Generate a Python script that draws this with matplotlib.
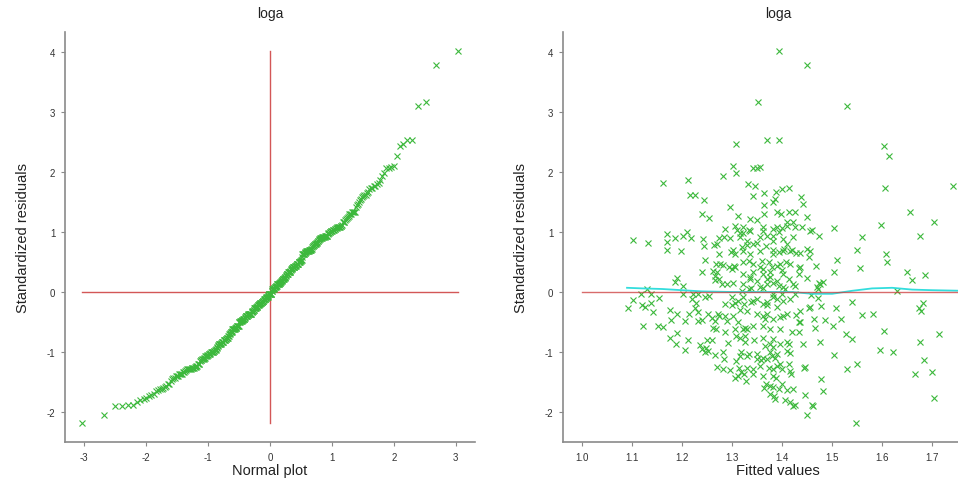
"""Residual diagnostics for the loga model: normal plot and residuals vs fitted."""
from statistics import NormalDist

import matplotlib
matplotlib.use("Agg")
import matplotlib.pyplot as plt
import numpy as np

plt.rcParams["font.family"] = ["Liberation Sans", "DejaVu Sans"]
plt.rcParams["axes.unicode_minus"] = False

# fitted values and standardized residuals, one entry per observation
fitted = [
    1.102, 1.132, 1.162, 1.212, 1.216, 1.226, 1.244, 1.170, 1.186, 1.170,
    1.202, 1.210, 1.218, 1.242, 1.244, 1.170, 1.198, 1.246, 1.190, 1.186,
    1.130, 1.202, 1.118, 1.138, 1.102, 1.092, 1.120, 1.126, 1.138, 1.142,
    1.154, 1.202, 1.222, 1.220, 1.254, 1.176, 1.190, 1.214, 1.226, 1.228,
    1.178, 1.176, 1.122, 1.152, 1.162, 1.190, 1.188, 1.206, 1.240, 1.236,
    1.248, 1.250, 1.260, 1.240, 1.254, 1.206, 1.232, 1.232, 1.232, 1.246,
    1.264, 1.212, 1.240, 1.246, 1.252,
    1.270, 1.274, 1.240, 1.270, 1.262, 1.276, 1.282, 1.266, 1.274, 1.260,
    1.274, 1.262, 1.268, 1.266, 1.282, 1.270, 1.282, 1.296, 1.274, 1.282,
    1.298, 1.302, 1.306, 1.330, 1.350, 1.300, 1.304, 1.322, 1.334, 1.302,
    1.336, 1.342, 1.334, 1.338, 1.286, 1.290, 1.302, 1.300, 1.316, 1.324,
    1.338, 1.350, 1.292, 1.286, 1.308, 1.316, 1.322, 1.326, 1.342, 1.314,
    1.318, 1.324, 1.330, 1.342, 1.328, 1.308, 1.316, 1.334, 1.350, 1.302,
    1.308, 1.342, 1.350, 1.332, 1.346, 1.342, 1.296, 1.312, 1.336, 1.350,
    1.286, 1.306, 1.310, 1.316, 1.322, 1.334, 1.296, 1.308, 1.352,
    1.284, 1.306, 1.312, 1.306, 1.312, 1.284, 1.320, 1.268, 1.294, 1.306,
    1.266, 1.280, 1.290, 1.320, 1.300, 1.312, 1.252, 1.272, 1.286, 1.306,
    1.266, 1.322, 1.336, 1.316, 1.330, 1.342, 1.356, 1.322, 1.336, 1.356,
    1.342, 1.356, 1.322, 1.336, 1.350, 1.322, 1.356, 1.322, 1.342, 1.330,
    1.350, 1.330, 1.326, 1.326, 1.344, 1.318, 1.330, 1.350, 1.342, 1.356,
    1.362, 1.382, 1.394, 1.402, 1.368, 1.382, 1.394, 1.404, 1.360, 1.374,
    1.390, 1.362, 1.376, 1.400, 1.408, 1.370, 1.382, 1.394, 1.406, 1.362,
    1.382, 1.400, 1.426, 1.370, 1.390, 1.362, 1.382, 1.402, 1.362, 1.376,
    1.396, 1.362, 1.382, 1.396, 1.410, 1.416, 1.366, 1.376, 1.362, 1.386,
    1.396, 1.414, 1.374, 1.390, 1.400, 1.362, 1.382, 1.418, 1.368, 1.382,
    1.400, 1.422, 1.376, 1.386, 1.406, 1.416, 1.422,
    1.362, 1.390, 1.410, 1.456, 1.370, 1.382, 1.410, 1.422, 1.382, 1.402,
    1.416, 1.450, 1.380, 1.396, 1.416, 1.362, 1.376, 1.390, 1.402, 1.436,
    1.434, 1.370, 1.402, 1.422, 1.470, 1.476, 1.362, 1.382, 1.402, 1.416,
    1.456, 1.370, 1.396, 1.410, 1.436, 1.366, 1.436, 1.376, 1.382, 1.414,
    1.358, 1.370, 1.380, 1.390, 1.410, 1.382, 1.416, 1.444, 1.388, 1.364,
    1.376, 1.394, 1.410, 1.384, 1.446, 1.462,
    1.394, 1.450, 1.530, 1.370, 1.394, 1.356, 1.604, 1.614, 1.606, 1.742,
    1.364, 1.388, 1.400, 1.414, 1.438, 1.364, 1.382, 1.386, 1.442, 1.364,
    1.390, 1.398, 1.414, 1.426, 1.450, 1.656, 1.704, 1.598, 1.504, 1.460,
    1.474, 1.560, 1.676, 1.382, 1.400, 1.410, 1.422, 1.426, 1.440,
    1.550, 1.608, 1.610, 1.510, 1.556, 1.504, 1.468, 1.650, 1.660, 1.686,
    1.450, 1.474, 1.482, 1.472, 1.630, 1.428, 1.436, 1.456, 1.454, 1.434,
    1.420, 1.414, 1.426, 1.458, 1.472, 1.370, 1.390, 1.540,
    1.454, 1.478, 1.508, 1.518, 1.560, 1.582, 1.674, 1.682, 1.678, 1.428,
    1.434, 1.464, 1.486, 1.502, 1.466, 1.420, 1.434, 1.528, 1.540, 1.604,
    1.714, 1.442, 1.476, 1.596, 1.622, 1.504, 1.676, 1.550, 1.530, 1.684,
    1.666, 1.700, 1.446, 1.478, 1.482, 1.460, 1.426, 1.450, 1.704, 1.548,
]
resid = [
    0.87, 0.82, 1.82, 1.87, 1.62, 1.62, 1.53, 0.97, 0.90, 0.83,
    0.93, 1.00, 0.90, 0.88, 0.77, 0.70, 0.68, 0.53, 0.23, 0.17,
    0.05, 0.10, -0.03, -0.03, -0.13, -0.27, -0.22, -0.25, -0.18, -0.33,
    -0.10, -0.03, -0.03, -0.12, -0.07, -0.30, -0.37, -0.37, -0.27, -0.18,
    -0.47, -0.77, -0.57, -0.57, -0.58, -0.68, -0.87, -0.97, -0.47, -0.88,
    -0.93, -0.80, -0.80, 1.30, 1.23, -0.48, -0.48, -0.33, -0.03, -0.08,
    0.78, -0.80, -0.95, -1.00, -0.98,
    0.80, 0.63, 0.33, 0.33, 0.35, 0.47, 0.45, 0.20, 0.22, -0.43,
    -0.40, -0.60, -0.62, -1.05, -1.00, -1.25, -1.28, -1.30, 0.90, 1.93,
    0.67, 0.70, 0.63, 0.78, 0.82, 0.38, 0.43, 0.50, 0.52, 0.15,
    0.22, 0.33, 0.05, 0.07, -0.40, -0.48, -0.40, -0.22, -0.30, -0.20,
    -0.17, -0.12, -0.85, -0.67, -0.73, -0.77, -0.62, -0.60, -0.57, -1.27,
    -1.33, -1.37, -1.27, -1.37, -1.48, -1.15, -1.07, -1.03, -1.12, 2.10,
    1.98, 2.07, 2.07, 1.80, 1.77, 1.60, 1.42, 1.27, 1.22, 1.20,
    1.05, 1.10, 1.03, 0.98, 0.98, 1.03, 0.90, 2.47, 3.17,
    -1.12, -1.43, -1.40, -0.62, -0.50, 0.92, 0.75, 0.47, 0.42, 0.42,
    0.27, 0.13, 0.13, 0.02, -0.08, -0.15, -0.37, -0.37, -0.20, -0.18,
    -0.48, 1.08, 1.02, 0.92, 0.85, 0.80, 0.92, 0.68, 0.63, 0.68,
    0.47, 0.42, 0.30, 0.25, 0.18, 0.13, 0.08, -0.08, -0.15, -0.32,
    -0.37, -0.62, -0.73, -0.83, -0.80, -1.00, -1.07, -1.03, -1.28, -1.23,
    1.02, 0.93, 1.00, 0.88, 0.77, 0.70, 0.67, 0.72, 0.52, 0.50,
    0.43, 0.38, 0.33, 0.37, 0.50, 0.22, 0.15, 0.10, 0.05, 0.07,
    -0.03, -0.03, -0.03, -0.22, -0.25, -0.40, -0.45, -0.40, -0.57, -0.62,
    -0.62, -0.77, -0.78, -0.87, -0.83, -1.02, -0.90, -1.00, -1.10, -1.10,
    -1.20, -1.20, -1.27, -1.23, -1.28, -1.40, -1.40, -1.37, -1.53, -1.58,
    -1.53, -1.62, -1.70, -1.78, -1.80, -1.83, -1.90,
    1.08, 1.08, 1.10, 1.02, 0.93, 0.85, 0.80, 0.92, 0.63, 0.68,
    0.68, 0.72, 0.42, 0.47, 0.47, 0.30, 0.25, 0.18, 0.30, 0.42,
    0.30, 0.13, 0.08, 0.13, 0.08, 0.13, -0.20, -0.08, -0.15, -0.12,
    -0.25, -0.37, -0.42, -0.37, -0.32, -0.45, -0.50, -0.87, -0.92, -0.87,
    -1.13, -1.12, -1.07, -1.03, -0.98, -1.28, -1.32, -1.27, -1.43, -1.60,
    -1.57, -1.62, -1.63, -1.73, -1.72, -1.90,
    4.02, 3.78, 3.10, 2.53, 2.53, 2.08, 2.43, 2.27, 1.73, 1.77,
    1.65, 1.67, 1.72, 1.73, 1.58, 1.45, 1.50, 1.55, 1.47, 1.30,
    1.33, 1.30, 1.33, 1.33, 1.25, 1.33, 1.17, 1.12, 1.07, 1.03,
    0.93, 0.92, 0.93, 1.05, 1.07, 1.17, 1.17, 1.08, 1.08,
    0.70, 0.63, 0.50, 0.53, 0.40, 0.33, 0.43, 0.33, 0.20, 0.28,
    0.23, 0.15, 0.17, 0.05, 0.02, 0.65, 0.65, 0.68, 0.58, 0.40,
    0.70, 0.22, 0.10, -0.05, -0.10, -0.17, -0.12, -0.17,
    -0.27, -0.23, -0.27, -0.45, -0.38, -0.37, -0.27, -0.18, -0.32, -0.38,
    -0.50, -0.45, -0.47, -0.57, -0.60, -0.67, -0.67, -0.70, -0.78, -0.65,
    -0.70, -0.87, -0.83, -0.97, -1.00, -1.05, -0.83, -1.20, -1.28, -1.13,
    -1.37, -1.33, -1.25, -1.45, -1.65, -1.88, -1.88, -2.05, -1.77, -2.18,
]
assert len(fitted) == len(resid)

# lowess smooth of residuals on fitted values
smooth_x = [1.09, 1.12, 1.16, 1.20, 1.24, 1.30, 1.36, 1.42, 1.46, 1.50,
            1.54, 1.58, 1.62, 1.66, 1.70, 1.76]
smooth_y = [0.07, 0.06, 0.05, 0.03, 0.01, 0.0, 0.0, 0.0, -0.03, -0.03,
            0.02, 0.06, 0.07, 0.04, 0.03, 0.02]

PT = "#3cb83c"
REF = "#cc3a3a"
SPINE = "#8a8a8a"
TXT = "#333333"


def style(ax):
    for s in ("top", "right"):
        ax.spines[s].set_visible(False)
    for s in ("left", "bottom"):
        ax.spines[s].set_color(SPINE)
        ax.spines[s].set_linewidth(1.2)
    ax.tick_params(direction="out", length=3, width=0.8, color=SPINE,
                   labelsize=7, labelcolor=TXT, pad=4)
    ax.set_ylim(-2.5, 4.33)
    ax.set_yticks([-2, -1, 0, 1, 2, 3, 4])
    ax.set_ylabel("Standardized residuals", fontsize=10.5, color="#222222", labelpad=12)
    ax.set_title("loga", fontsize=10, color="#222222", pad=11)


r = np.array(resid)
f = np.array(fitted)
n = len(r)
q = np.array([NormalDist().inv_cdf((i - 0.5) / n) for i in range(1, n + 1)])
rs = np.sort(r)

fig = plt.figure(figsize=(9.58, 4.81), dpi=100)
ax1 = fig.add_axes([0.0679, 0.079, 0.428, 0.852])
ax2 = fig.add_axes([0.5877, 0.079, 0.449, 0.852])

# normal plot
ax1.plot([q.min(), q.max()], [0, 0], color=REF, lw=1, alpha=0.85)
ax1.plot([0, 0], [rs.min(), rs.max()], color=REF, lw=1, alpha=0.85)
ax1.plot(q, rs, ls="none", marker="x", ms=4, mew=0.8, color=PT)
ax1.set_xlim(-3.31, 3.31)
ax1.set_xticks([-3, -2, -1, 0, 1, 2, 3])
ax1.set_xlabel("Normal plot", fontsize=10.5, color="#222222", labelpad=1)
style(ax1)

# residuals vs fitted
ax2.plot(f, r, ls="none", marker="x", ms=4, mew=0.8, color=PT)
ax2.plot(smooth_x, smooth_y, color="#33dddd", lw=1.3)
ax2.plot([1.0, 1.85], [0, 0], color=REF, lw=1, alpha=0.75)
ax2.set_xlim(0.962, 1.822)
ax2.set_xticks([1.0, 1.1, 1.2, 1.3, 1.4, 1.5, 1.6, 1.7])
ax2.set_xticklabels(["1.0", "1.1", "1.2", "1.3", "1.4", "1.5", "1.6", "1.7"])
ax2.set_xlabel("Fitted values", fontsize=10.5, color="#222222", labelpad=1)
style(ax2)

fig.savefig("out.png", dpi=100)
